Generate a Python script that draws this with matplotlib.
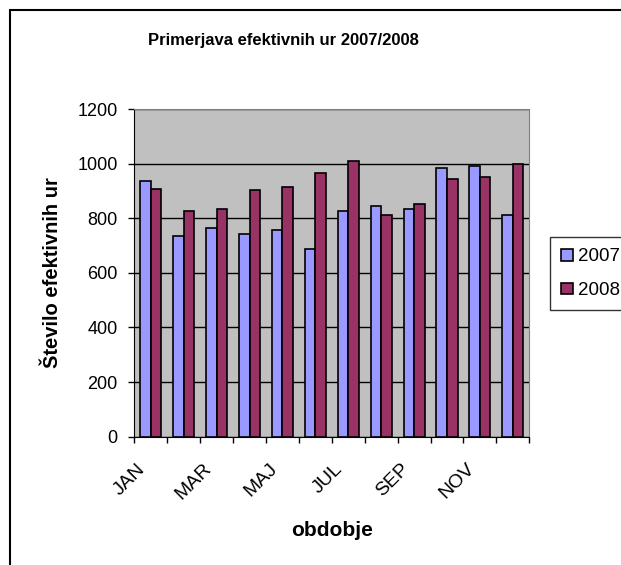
import matplotlib
matplotlib.use("Agg")
import matplotlib.pyplot as plt
import matplotlib.transforms as mtransforms
import numpy as np

plt.rcParams['font.family'] = ['Liberation Sans', 'DejaVu Sans']

months = ["JAN", "FEB", "MAR", "APR", "MAJ", "JUN", "JUL", "AVG", "SEP", "OKT", "NOV", "DEC"]
ure_2007 = [936, 736, 764, 743, 756, 688, 825, 845, 833, 983, 990, 811]
ure_2008 = [908, 825, 833, 902, 915, 964, 1010, 811, 853, 943, 950, 997]
yticks = [0, 200, 400, 600, 800, 1000, 1200]

fig = plt.figure(figsize=(6.21, 5.65), dpi=100)
ax = fig.add_axes([134.3/621, 1-436.7/565, (529.3-134.3)/621, (436.7-109)/565])
ax.set_facecolor('#C0C0C0')

x = np.arange(len(months))
w = 0.32
ax.bar(x - w/2, ure_2007, w, color='#9999FF', edgecolor='black', lw=1.2, label='2007', zorder=3)
ax.bar(x + w/2, ure_2008, w, color='#993366', edgecolor='black', lw=1.2, label='2008', zorder=3)

ax.set_xlim(-0.5, len(months) - 0.5)
ax.set_ylim(0, 1200)
ax.set_yticks(yticks)
ax.yaxis.grid(True, color='black', lw=1, zorder=0)
ax.set_axisbelow(True)

# ticks at category borders, labels every second month
ax.set_xticks(np.arange(-0.5, len(months)), minor=False)
ax.set_xticklabels([])
ax.set_xticks(x[::2], minor=True)
ax.set_xticklabels(months[::2], minor=True, rotation=45, ha='right', rotation_mode='anchor', fontsize=14)
ax.tick_params(axis='x', which='minor', length=0, pad=17)
ax.tick_params(axis='x', which='major', direction='out', length=4, width=1)
ax.tick_params(axis='y', direction='out', length=4, width=1, labelsize=13, pad=8)
shift = mtransforms.ScaledTranslation(-0.14, 0, fig.dpi_scale_trans)
for lab in ax.get_xticklabels(minor=True):
    lab.set_transform(lab.get_transform() + shift)

for s in ['top', 'right']:
    ax.spines[s].set_color('#808080')
for s in ['left', 'bottom']:
    ax.spines[s].set_color('black')

ax.set_xlabel('obdobje', fontsize=15, fontweight='bold', labelpad=13)
ax.set_ylabel('Število efektivnih ur', fontsize=14.5, fontweight='bold', labelpad=11)
fig.text(283/621, 1-40/565, 'Primerjava efektivnih ur 2007/2008', ha='center', va='center',
         fontsize=12, fontweight='bold')

leg = fig.legend(loc='upper left', bbox_to_anchor=(550/621, 1-237/565), fontsize=13.5,
                 frameon=True, fancybox=False, edgecolor='black', handlelength=0.6,
                 handleheight=0.6, handletextpad=0.3, labelspacing=0.9, borderpad=0.6,
                 borderaxespad=0)
leg.get_frame().set_linewidth(1)

fig.patches.append(plt.Rectangle((9.5/621, -0.1), 1.2, 1.1 - 10/565, fill=False,
                                 edgecolor='black', lw=1.5, transform=fig.transFigure, figure=fig))

fig.savefig('out.png', dpi=100)
